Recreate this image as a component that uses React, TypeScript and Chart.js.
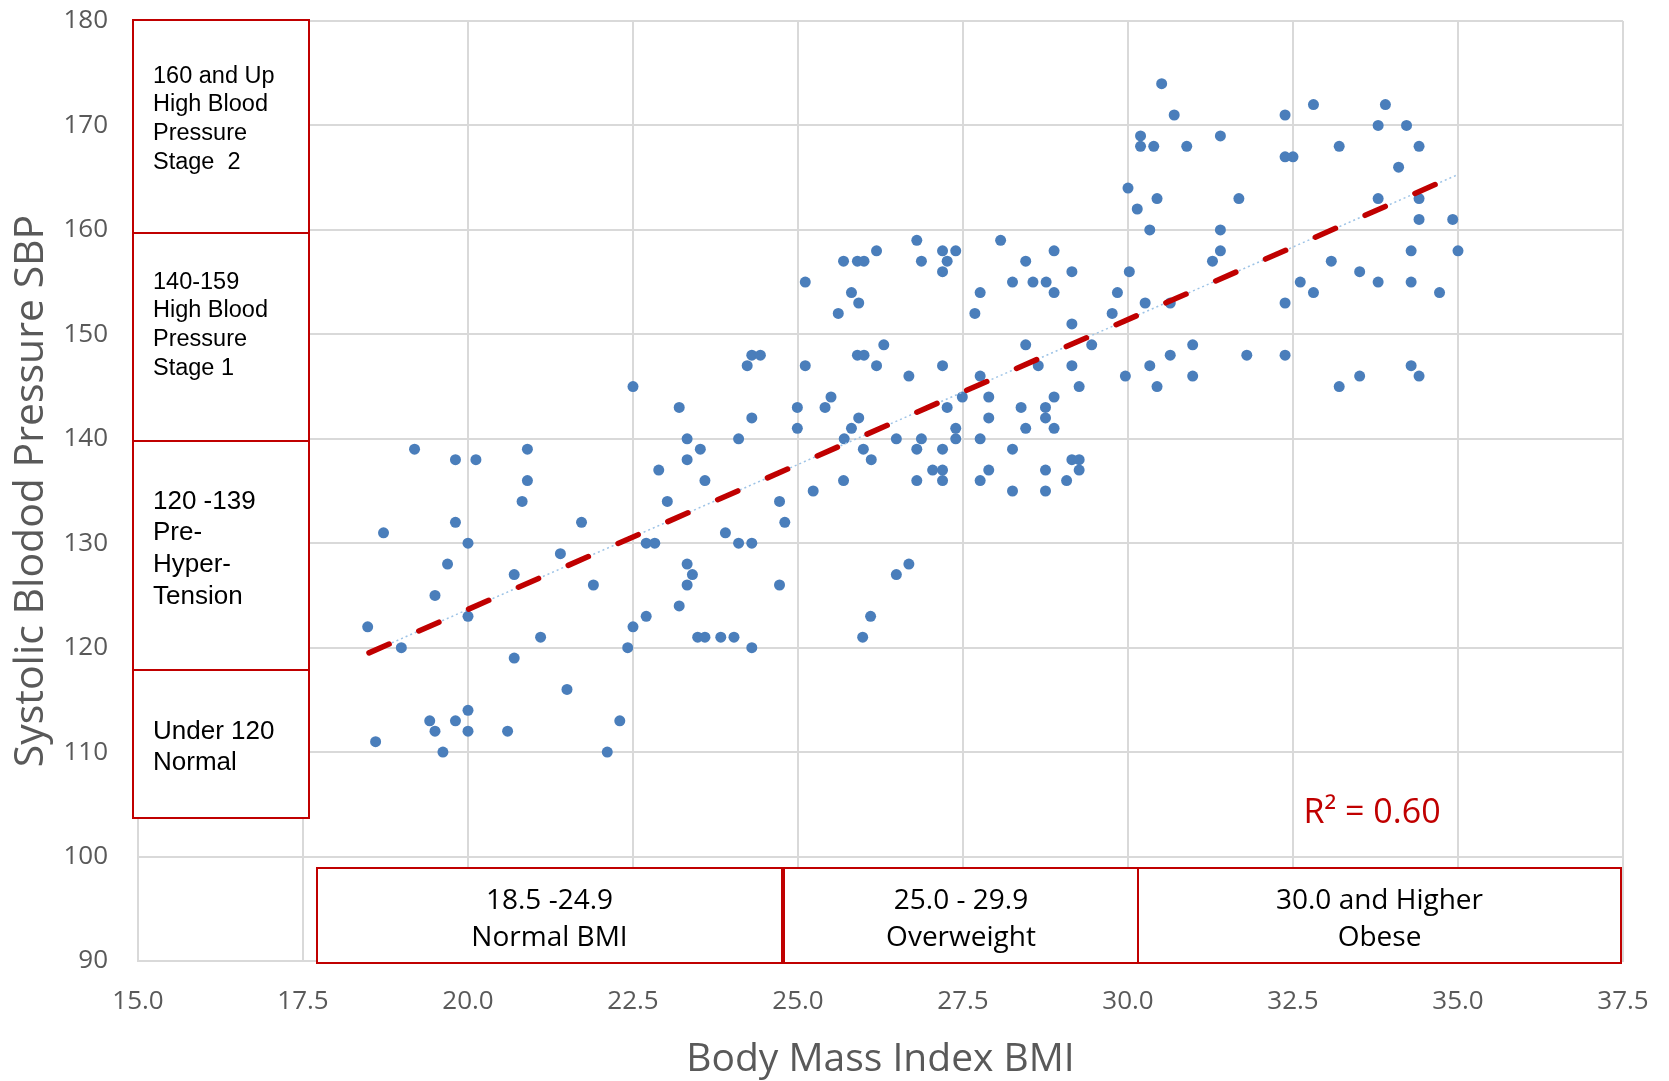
import { useEffect, useRef } from "react";
import { Chart, registerables } from "chart.js";

Chart.register(...registerables);

// ---------- DATA ----------
const BMI = [
  22.5, 23.2, 24.99, 24.3, 23.32, 24.1, 24.99, 19.19, 19.81, 20.12, 20.9, 23.52, 23.32, 22.89, 20.9, 23.59,
  20.82, 23.02, 24.72, 19.81, 21.72, 24.8, 18.72, 20.0, 23.9, 22.7, 22.83, 24.1, 24.3, 21.4, 19.69, 23.32,
  23.4, 20.7, 21.9, 23.32, 24.72, 19.5, 23.2, 18.48, 20.0, 22.5, 22.7, 21.1, 23.48, 23.59, 23.83, 24.03,
  18.99, 22.42, 24.3, 20.7, 21.5, 19.42, 19.81, 20.0, 19.5, 20.0, 20.6, 22.3, 18.6, 19.62, 22.11,
  26.8, 28.07, 26.19, 27.19, 27.39, 28.88, 25.69, 25.9, 26.0, 26.87, 27.26, 28.45, 27.19, 29.15, 25.11, 28.25,
  28.56, 28.76, 25.81, 27.76, 28.88, 29.84, 25.92, 25.61, 27.68, 29.76, 29.15, 26.3, 28.45, 29.45, 25.9, 26.0,
  24.3, 24.43, 24.23, 25.11, 26.19, 27.19, 28.64, 29.15, 26.68, 27.76, 29.96, 29.26, 25.5, 27.49, 27.89, 28.88,
  25.41, 27.26, 28.38, 28.75, 25.92, 27.89, 28.75, 25.81, 27.39, 28.45, 28.88, 25.7, 26.49, 26.87, 27.39, 27.76,
  25.99, 26.8, 27.19, 28.25, 26.11, 29.15, 29.26, 27.04, 27.19, 27.89, 28.75, 29.26, 25.69, 26.8, 27.19, 27.76,
  29.07, 25.23, 28.25, 28.75, 26.68, 26.49, 25.98, 26.1,
  30.02, 30.14, 30.44, 30.33, 30.26, 30.64, 30.98, 30.33, 30.64, 30.98, 30.44,
  30.51, 30.7, 30.19, 30.19, 30.39, 30.89, 31.4, 32.38, 32.81, 33.9, 33.79, 34.22, 33.2, 34.41, 32.38, 32.5,
  34.1, 30.0, 31.68, 33.79, 34.41, 31.4, 34.41, 34.92, 31.4, 34.29, 35.0, 31.28, 33.08, 33.51, 32.61, 32.81,
  33.79, 34.29, 34.72, 32.38, 31.8, 32.38, 34.29, 34.41, 33.2, 33.51,
];
const SBP = [
  145, 143, 143, 142, 140, 140, 141, 139, 138, 138, 139, 139, 138, 137, 136, 136,
  134, 134, 134, 132, 132, 132, 131, 130, 131, 130, 130, 130, 130, 129, 128, 128,
  127, 127, 126, 126, 126, 125, 124, 122, 123, 122, 123, 121, 121, 121, 121, 121,
  120, 120, 120, 119, 116, 113, 113, 114, 112, 112, 112, 113, 111, 110, 110,
  159, 159, 158, 158, 158, 158, 157, 157, 157, 157, 157, 157, 156, 156, 155, 155,
  155, 155, 154, 154, 154, 154, 153, 152, 152, 152, 151, 149, 149, 149, 148, 148,
  148, 148, 147, 147, 147, 147, 147, 147, 146, 146, 146, 145, 144, 144, 144, 144,
  143, 143, 143, 143, 142, 142, 142, 141, 141, 141, 141, 140, 140, 140, 140, 140,
  139, 139, 139, 139, 138, 138, 138, 137, 137, 137, 137, 137, 136, 136, 136, 136,
  136, 135, 135, 135, 128, 127, 121, 123,
  156, 162, 163, 160, 153, 153, 149, 147, 148, 146, 145,
  174, 171, 169, 168, 168, 168, 169, 171, 172, 172, 170, 170, 168, 168, 167, 167,
  166, 164, 163, 163, 163, 160, 161, 161, 158, 158, 158, 157, 157, 156, 155, 154,
  155, 155, 154, 153, 148, 148, 147, 146, 145, 146,
];
const TREND_X = [18.5, 35.0];
const TREND_Y = [119.5, 165.3];
const X_TICK_VALUES = [15, 17.5, 20, 22.5, 25, 27.5, 30, 32.5, 35, 37.5];
const X_TICK_LABELS = ["15.0", "17.5", "20.0", "22.5", "25.0", "27.5", "30.0", "32.5", "35.0", "37.5"];
const Y_TICK_VALUES = [90, 100, 110, 120, 130, 140, 150, 160, 170, 180];
const Y_TICK_LABELS = ["90", "100", "110", "120", "130", "140", "150", "160", "170", "180"];
const SBP_CATEGORIES = [
  ["160 and Up", "High Blood", "Pressure", "Stage  2"],
  ["140-159", "High Blood", "Pressure", "Stage 1"],
  ["120 -139", "Pre-", "Hyper-", "Tension"],
  ["Under 120", "Normal"],
];
const BMI_CATEGORIES = [
  ["18.5 -24.9", "Normal BMI"],
  ["25.0 - 29.9", "Overweight"],
  ["30.0 and Higher", "Obese"],
];
const R2_LABEL = "R\u00B2 = 0.60";
const X_TITLE = "Body Mass Index BMI";
const Y_TITLE = "Systolic Blodod Pressure SBP";

// ---------- STYLE / LAYOUT ----------
const W = 1669;
const H = 1081;
const RED = "#C00000";
const GRID = "#D9D9D9";
const TICK_COLOR = "#595959";
const SANS = "'Open Sans', 'DejaVu Sans', sans-serif";
const ARIAL = "'Liberation Sans', Arial, sans-serif";

const LEFT_BOX_X = [133, 309];
const LEFT_BOX_EDGES = [20, 233, 441, 670, 818];
const LEFT_TEXT = [
  { size: 23.5, first: 82.5, step: 28.7 },
  { size: 23.5, first: 288.5, step: 28.7 },
  { size: 26, first: 508.5, step: 31.7 },
  { size: 26, first: 738.5, step: 31.7 },
];
const BOTTOM_BOXES = [
  [317, 782],
  [784, 1138],
  [1138, 1621],
];
const BOTTOM_TOP = 868;
const BOTTOM_BOTTOM = 963;

const annotationPlugin = {
  id: "annotations",
  afterDraw(chart: any) {
    const ctx = chart.ctx as CanvasRenderingContext2D;
    ctx.save();
    ctx.lineWidth = 2;
    ctx.strokeStyle = RED;
    // left SBP category boxes
    for (let i = 0; i < SBP_CATEGORIES.length; i++) {
      const y0 = LEFT_BOX_EDGES[i];
      const y1 = LEFT_BOX_EDGES[i + 1];
      ctx.fillStyle = "#FFFFFF";
      ctx.fillRect(LEFT_BOX_X[0], y0, LEFT_BOX_X[1] - LEFT_BOX_X[0], y1 - y0);
      ctx.strokeRect(LEFT_BOX_X[0], y0, LEFT_BOX_X[1] - LEFT_BOX_X[0], y1 - y0);
      const t = LEFT_TEXT[i];
      ctx.fillStyle = "#000000";
      ctx.font = `${t.size}px ${ARIAL}`;
      ctx.textAlign = "left";
      ctx.textBaseline = "alphabetic";
      SBP_CATEGORIES[i].forEach((line, k) => {
        ctx.fillText(line, 153, t.first + k * t.step);
      });
    }
    // bottom BMI category boxes
    for (let i = 0; i < BMI_CATEGORIES.length; i++) {
      const [x0, x1] = BOTTOM_BOXES[i];
      ctx.fillStyle = "#FFFFFF";
      ctx.fillRect(x0, BOTTOM_TOP, x1 - x0, BOTTOM_BOTTOM - BOTTOM_TOP);
      ctx.strokeRect(x0, BOTTOM_TOP, x1 - x0, BOTTOM_BOTTOM - BOTTOM_TOP);
      ctx.fillStyle = "#000000";
      ctx.font = `28px ${SANS}`;
      ctx.textAlign = "center";
      ctx.textBaseline = "alphabetic";
      const cx = (x0 + x1) / 2;
      ctx.fillText(BMI_CATEGORIES[i][0], cx, 908.5);
      ctx.fillText(BMI_CATEGORIES[i][1], cx, 945.5);
    }
    // R squared
    ctx.fillStyle = RED;
    ctx.font = `34px ${SANS}`;
    ctx.textAlign = "center";
    ctx.textBaseline = "alphabetic";
    ctx.fillText(R2_LABEL, 1372, 823);
    ctx.restore();
  },
};

export default function App() {
  const ref = useRef<HTMLCanvasElement | null>(null);

  useEffect(() => {
    if (!ref.current) return;
    const points = BMI.map((x, i) => ({ x, y: SBP[i] }));
    const trend = TREND_X.map((x, i) => ({ x, y: TREND_Y[i] }));
    const chart = new Chart(ref.current, {
      type: "scatter",
      data: {
        datasets: [
          {
            label: "Trend (overlay)",
            data: trend,
            showLine: true,
            borderColor: RED,
            borderWidth: 5.5,
            borderDash: [22, 32.4],
            borderCapStyle: "round",
            pointRadius: 0,
            fill: false,
          } as any,
          {
            label: "Linear trend",
            data: trend,
            showLine: true,
            borderColor: "#9DC3E6",
            borderWidth: 1.5,
            borderDash: [2, 3],
            pointRadius: 0,
            fill: false,
          } as any,
          {
            label: "SBP vs BMI",
            data: points,
            backgroundColor: "#4A7EBB",
            borderWidth: 0,
            pointRadius: 5.5,
          },
        ],
      },
      options: {
        responsive: false,
        animation: false,
        devicePixelRatio: 1,
        layout: { autoPadding: false, padding: { left: 0, right: 46, top: 21, bottom: 0 } },
        plugins: {
          legend: { display: false },
          tooltip: { enabled: false },
        },
        scales: {
          x: {
            type: "linear",
            min: 15,
            max: 37.5,
            afterBuildTicks: (scale: any) => {
              scale.ticks = X_TICK_VALUES.map((v) => ({ value: v }));
            },
            afterFit: (scale: any) => {
              scale.height = H - 961;
              scale.paddingLeft = 0;
              scale.paddingRight = 0;
              scale.paddingTop = 0;
              scale.paddingBottom = 0;
            },
            ticks: {
              padding: 25,
              color: TICK_COLOR,
              font: { family: SANS, size: 26 },
              callback: (_v: any, i: number) => X_TICK_LABELS[i],
              maxRotation: 0,
              autoSkip: false,
            },
            grid: { color: GRID, lineWidth: 2, drawTicks: false },
            border: { color: GRID, width: 2 },
            title: {
              display: true,
              text: X_TITLE,
              color: TICK_COLOR,
              font: { family: SANS, size: 39, lineHeight: 1 },
              padding: { top: 0, bottom: 1.5 },
            },
          },
          y: {
            type: "linear",
            min: 90,
            max: 180,
            afterBuildTicks: (scale: any) => {
              scale.ticks = Y_TICK_VALUES.map((v) => ({ value: v }));
            },
            afterFit: (scale: any) => {
              scale.width = 138;
              scale.paddingLeft = 0;
              scale.paddingRight = 0;
              scale.paddingTop = 0;
              scale.paddingBottom = 0;
            },
            ticks: {
              padding: 30,
              color: TICK_COLOR,
              font: { family: SANS, size: 26 },
              callback: (_v: any, i: number) => Y_TICK_LABELS[i],
              autoSkip: false,
            },
            grid: { color: GRID, lineWidth: 2, drawTicks: false },
            border: { color: GRID, width: 2 },
            title: {
              display: true,
              text: Y_TITLE,
              color: TICK_COLOR,
              font: { family: SANS, size: 41, lineHeight: 1.2 },
              padding: { top: 7, bottom: 0 },
            },
          },
        },
      } as any,
      plugins: [annotationPlugin],
    });
    return () => chart.destroy();
  }, []);

  return (
    <div style={{ position: "fixed", left: 0, top: 0, width: W, height: H, background: "#FFFFFF" }}>
      <canvas ref={ref} width={W} height={H} style={{ width: W, height: H, display: "block" }} />
    </div>
  );
}
